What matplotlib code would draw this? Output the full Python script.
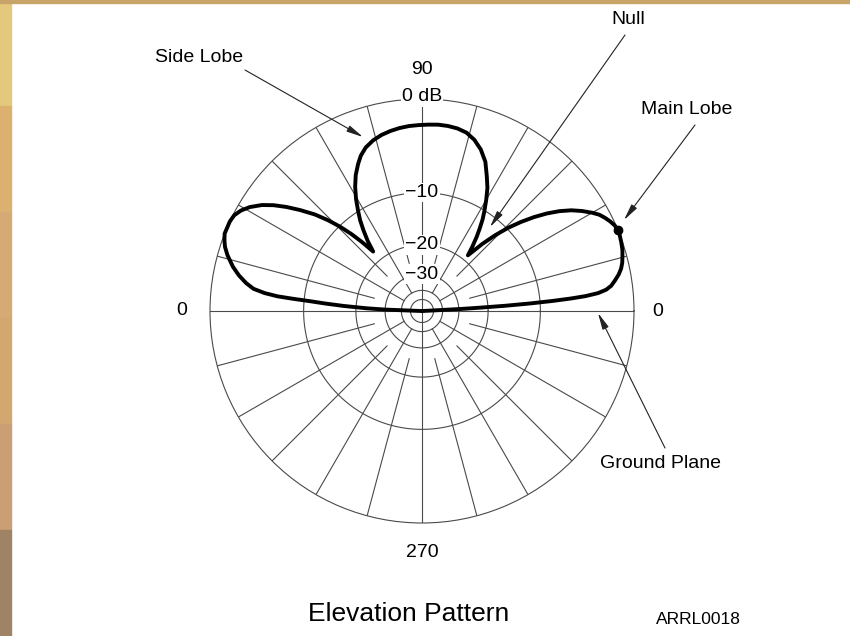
import numpy as np
import matplotlib.pyplot as plt
from matplotlib.patches import Rectangle

# elevation pattern: angle (deg) / relative gain (dB)
angle_deg = [0, 3.0, 3.3, 3.6, 4.0, 4.4, 4.8, 5.2, 5.8, 6.6, 7.6, 9.0, 10.5,
             12.0, 13.5, 15.2, 17.0, 19.0, 21.0, 22.5, 24.0, 25.5, 27.0, 28.5,
             30.0, 32.0, 34.0, 36.0, 38.0, 40.0, 42.0, 44.0, 46.0, 48.0, 50.5,
             52.0, 53.6, 55.0, 56.5, 58.0, 60.0, 62.0, 64.3, 67.0, 70.0, 73.0,
             76.0, 79.0, 82.0, 85.0, 88.0, 91.0, 94.0, 97.0, 100.0, 103.0,
             106.0, 109.0, 111.5, 113.5, 116.0, 118.3, 120.5, 122.5, 124.3,
             126.0, 127.8, 129.4,
             131.0, 132.5, 134.2, 136.0, 138.0, 140.4, 142.5, 144.5, 146.5,
             148.9, 151.0, 153.0, 155.0, 158.6, 160.5, 162.0, 164.0, 166.8,
             169.0, 171.0, 172.5, 173.5, 174.2, 174.6, 175.0, 175.6, 176.3,
             177.2, 177.8, 180.0]
gain_db = [-99, -29, -22, -16, -11.5, -8.3, -6.0, -4.4, -3.1, -2.3, -1.8, -1.4, -1.0,
           -0.7, -0.5, -0.35, -0.2, -0.1, -0.02, 0, -0.1, -0.3, -0.55, -0.85,
           -1.3, -2.0, -2.8, -3.8, -5.0, -6.4, -8.0, -9.8, -12.0, -14.6, -18.5,
           -16.3, -14.3, -12.8, -11.3, -10.1, -8.6, -7.2, -6.0, -4.6, -3.6, -2.9,
           -2.45, -2.25, -2.17, -2.15, -2.2, -2.25, -2.3, -2.4, -2.55, -2.75,
           -3.05, -3.5, -4.1, -4.8, -5.8, -7.0, -8.4, -9.9, -11.3,
           -13.0, -15.0, -17.4,
           -14.5, -12.2, -10.1, -8.3, -6.6, -5.0, -3.7, -2.6, -1.7,
           -0.9, -0.4, -0.1, 0, 0, -0.2, -0.4, -0.8, -1.5,
           -2.2, -3.0, -3.8, -5.0, -6.5, -8.5, -10.9, -13.5, -17,
           -23, -30, -99]

ring_db = [0, -10, -20, -30, -40, -50]
ring_labels = ['0 dB', '\u221210', '\u221220', '\u221230']
peak_angle = 22.5
peak_db = 0

plt.rcParams['font.family'] = ['Liberation Sans', 'DejaVu Sans']
GRID = '#4a4a4a'


def arrl_radius(db):
    # ARRL log-periodic scale: each 2 dB shrinks radius by 0.89
    return 0.89 ** (-np.asarray(db, dtype=float) / 2.0)


W, H = 850, 636
fig = plt.figure(figsize=(W / 100, H / 100), dpi=100)

# slide background strips
left_cols = ['#e4c97c', '#dcb06f', '#d6aa74', '#d4a771', '#c99f73', '#9e8364']
n = len(left_cols)
for i, c in enumerate(left_cols):
    fig.patches.append(Rectangle((0, 1 - (i + 1) / n), 11 / W, 1 / n, color=c,
                                 transform=fig.transFigure, zorder=0))
fig.patches.append(Rectangle((0, 1 - 3 / H), 1, 3 / H, color='#c9a468',
                             transform=fig.transFigure, zorder=0))

cx, cy, R = 422, 311, 212
ax = fig.add_axes([(cx - R) / W, (H - cy - R) / H, 2 * R / W, 2 * R / H],
                  projection='polar')
ax.set_ylim(0, 1)
ax.grid(False)
ax.set_xticks([])
ax.set_yticks([])
ax.spines['polar'].set_linewidth(0.8)
ax.spines['polar'].set_color(GRID)

th = np.linspace(0, 2 * np.pi, 721)
for db in ring_db[1:]:
    ax.plot(th, np.full_like(th, arrl_radius(db)), color=GRID, lw=0.8)

for a in range(0, 360, 15):
    if a % 90 == 0:
        r0 = 0
    elif a % 30 == 0:
        r0 = arrl_radius(-40)
    else:
        r0 = arrl_radius(-25)
    ax.plot([np.radians(a)] * 2, [r0, 1], color=GRID, lw=0.8)

ax.plot(np.radians(angle_deg), arrl_radius(gain_db), color='black', lw=2.8,
        solid_joinstyle='round', solid_capstyle='round', clip_on=False, zorder=5)
ax.plot(np.radians(peak_angle), arrl_radius(peak_db), 'o', color='black', ms=6,
        clip_on=False, zorder=6)

# ring labels on the vertical axis
for db, lab in zip(ring_db, ring_labels):
    r = arrl_radius(db) + (0.01 if db == 0 else 0)
    ax.text(np.pi / 2, r, lab, ha='center', va='center', fontsize=14,
            bbox=dict(fc='white', ec='none', pad=1.0), zorder=4, clip_on=False)

ax.text(np.pi / 2, 1.137, '90', ha='center', va='center', fontsize=14)
ax.text(np.pi, 1.132, '0', ha='center', va='center', fontsize=14)
ax.text(0, 1.113, '0', ha='center', va='center', fontsize=14)
ax.text(3 * np.pi / 2, 1.137, '270', ha='center', va='center', fontsize=14)


def fpx(x, y):
    return (x, H - y)


notes = [
    ('Side Lobe', (199, 58), (245, 70), (363, 137)),
    ('Null', (628, 20), (625, 35), (490, 227)),
    ('Main Lobe', (687, 110), (695, 125), (624, 220)),
    ('Ground Plane', (660, 463), (665, 448), (598, 313)),
]
for label, tpos, start, tip in notes:
    fig.text(tpos[0] / W, 1 - tpos[1] / H, label, ha='center', va='center',
             fontsize=14)
    ax.annotate('', xy=fpx(*tip), xycoords='figure pixels',
                xytext=fpx(*start), textcoords='figure pixels',
                arrowprops=dict(arrowstyle='-|>,head_length=1.0,head_width=0.2',
                                color='#222222', lw=0.8, shrinkA=0, shrinkB=0))

fig.text(409 / W, 1 - 614 / H, 'Elevation Pattern', ha='center', va='center',
         fontsize=19)
fig.text(698 / W, 1 - 620 / H, 'ARRL0018', ha='center', va='center',
         fontsize=12.5)

fig.savefig('out.png', dpi=100)
